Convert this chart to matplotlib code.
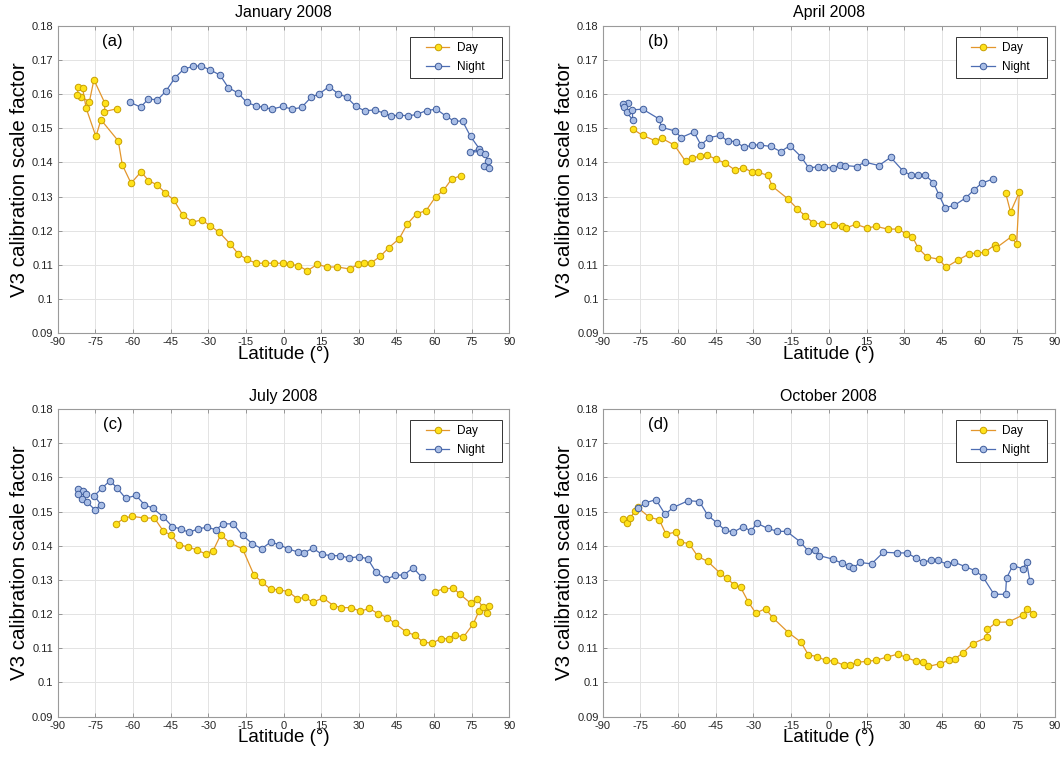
import numpy as np
import matplotlib
matplotlib.use("Agg")
import matplotlib.pyplot as plt
from matplotlib.ticker import FuncFormatter
from matplotlib.patches import Rectangle

plt.rcParams['font.family'] = ['Liberation Sans', 'DejaVu Sans']
plt.rcParams['axes.unicode_minus'] = False

titles = ["January 2008", "April 2008", "July 2008", "October 2008"]
tags = ["(a)", "(b)", "(c)", "(d)"]

# January 2008
jan_day_lat = [-66.4, -71.3, -71.1, -75.5, -77.3, -80.8, -82.1, -81.7, -80.0, -78.6, -74.7, -72.7,
               -65.8, -64.2, -60.7, -56.7, -53.8, -50.5, -47.2, -43.6, -40.2, -36.3, -32.6, -29.3,
               -25.5, -21.3, -18.0, -14.7, -10.9, -7.4, -3.7, -0.3, 2.6, 5.9, 9.5, 13.5, 17.2, 21.5,
               26.5, 29.6, 32.1, 34.7, 38.5, 42.0, 46.1, 49.3, 53.0, 56.8, 60.6, 63.7, 67.0, 70.7]
jan_day_val = [.1557, .1549, .1573, .1642, .1578, .1593, .1598, .1622, .1617, .1559, .1476, .1525,
               .1463, .1393, .1339, .1373, .1347, .1335, .1312, .1289, .1247, .1225, .1232, .1215,
               .1195, .1162, .1132, .1117, .1105, .1105, .1105, .1105, .1102, .1098, .1083, .1102,
               .1094, .1094, .1088, .1102, .1105, .1105, .1125, .1151, .1177, .1220, .1250, .1259,
               .1300, .1318, .1352, .1361]
jan_night_lat = [-61.1, -56.9, -53.8, -50.2, -46.8, -43.2, -39.6, -35.9, -32.9, -29.3, -25.3, -22.0,
                 -18.0, -14.7, -11.1, -7.8, -4.7, -0.3, 3.3, 7.2, 11.0, 14.3, 18.1, 21.8, 25.2, 28.8,
                 32.4, 36.4, 40.0, 43.0, 46.1, 49.7, 53.2, 57.0, 60.9, 64.6, 67.9, 71.3, 74.5, 78.0,
                 74.3, 78.2, 80.2, 81.5, 79.8, 81.8]
jan_night_val = [.1576, .1562, .1586, .1583, .1609, .1648, .1674, .1681, .1683, .1671, .1656, .1619,
                 .1603, .1576, .1566, .1561, .1556, .1564, .1556, .1561, .1591, .1601, .1622, .1601,
                 .1591, .1564, .1551, .1554, .1544, .1536, .1539, .1536, .1541, .1552, .1556, .1536,
                 .1521, .1521, .1476, .1440, .1430, .1432, .1424, .1403, .1391, .1385]

# April 2008
apr_day_lat = [-78.1, -74.1, -69.2, -66.6, -61.5, -57.0, -54.6, -51.3, -48.6, -45.0, -41.3, -37.4,
               -34.0, -30.7, -28.3, -24.3, -22.5, -16.4, -12.5, -9.5, -6.4, -2.6, 2.1, 5.1, 6.8,
               10.7, 15.2, 18.7, 23.4, 27.6, 30.7, 33.2, 35.6, 39.1, 43.8, 46.6, 51.5, 55.8, 58.8,
               62.1, 66.1, 66.4, 72.7, 74.7, 75.8, 72.3, 70.3]
apr_day_val = [.1498, .1479, .1464, .1471, .1451, .1403, .1412, .1419, .1422, .1410, .1398, .1378,
               .1385, .1372, .1372, .1362, .1330, .1294, .1264, .1244, .1224, .1219, .1218, .1213,
               .1208, .1219, .1208, .1213, .1205, .1205, .1191, .1183, .1149, .1123, .1117, .1093,
               .1115, .1132, .1135, .1137, .1159, .1149, .1183, .1161, .1313, .1255, .1312]
apr_night_lat = [-80.1, -82.1, -81.4, -80.5, -78.1, -78.2, -74.1, -67.5, -66.6, -61.2, -58.8, -53.7,
                 -50.9, -47.6, -43.3, -40.3, -37.1, -33.7, -30.7, -27.4, -23.2, -19.2, -15.5, -11.1,
                 -7.9, -4.4, -2.0, 1.7, 4.4, 6.6, 11.0, 14.3, 19.9, 24.6, 29.4, 32.5, 35.6, 38.3,
                 41.6, 43.8, 46.2, 49.9, 54.6, 57.8, 60.8, 65.4]
apr_night_val = [.1573, .1570, .1561, .1547, .1525, .1554, .1556, .1527, .1503, .1492, .1473, .1489,
                 .1451, .1473, .1479, .1463, .1461, .1444, .1451, .1451, .1447, .1432, .1449, .1417,
                 .1383, .1388, .1386, .1383, .1393, .1391, .1388, .1401, .1391, .1415, .1376, .1363,
                 .1363, .1363, .1341, .1305, .1268, .1274, .1297, .1320, .1339, .1352]

# July 2008
jul_day_lat = [-66.7, -63.5, -60.2, -55.4, -51.4, -47.8, -44.9, -41.6, -37.9, -34.6, -31.0, -28.0,
               -25.0, -21.3, -16.3, -11.8, -8.7, -5.1, -1.7, 1.9, 5.5, 8.5, 11.6, 15.8, 19.9, 23.0,
               27.0, 30.6, 34.1, 37.7, 41.3, 44.3, 48.6, 52.3, 55.6, 59.2, 62.7, 65.8, 68.2, 71.6,
               75.6, 77.8, 79.5, 81.8, 80.9, 77.1, 74.5, 70.3, 67.6, 63.9, 60.3]
jul_day_val = [.1463, .1481, .1486, .1481, .1481, .1442, .1432, .1403, .1396, .1388, .1376, .1386,
               .1432, .1408, .1391, .1315, .1294, .1273, .1271, .1266, .1245, .1249, .1235, .1247,
               .1225, .1219, .1219, .1208, .1217, .1201, .1190, .1173, .1149, .1138, .1118, .1115,
               .1128, .1128, .1140, .1132, .1172, .1208, .1222, .1225, .1203, .1245, .1232, .1258,
               .1276, .1274, .1266]
jul_night_lat = [-81.7, -80.0, -78.6, -81.7, -80.4, -78.4, -75.1, -72.7, -75.3, -72.4, -69.1, -66.4,
                 -62.9, -58.7, -55.4, -52.1, -47.8, -44.3, -40.9, -37.6, -34.2, -30.6, -26.9, -24.0,
                 -20.0, -16.3, -12.4, -8.7, -5.1, -1.7, 1.9, 5.9, 8.0, 11.6, 15.3, 18.9, 22.5, 26.2,
                 29.9, 33.5, 36.8, 40.8, 44.4, 48.1, 51.6, 55.0]
jul_night_val = [.1565, .1561, .1551, .1552, .1537, .1529, .1505, .1520, .1546, .1568, .1590, .1570,
                 .1539, .1547, .1520, .1510, .1484, .1456, .1449, .1439, .1449, .1454, .1447, .1464,
                 .1464, .1430, .1406, .1391, .1411, .1403, .1391, .1381, .1378, .1393, .1375, .1371,
                 .1371, .1364, .1368, .1362, .1323, .1302, .1313, .1315, .1336, .1308]

# October 2008
oct_day_lat = [-82.1, -80.5, -79.1, -77.1, -76.1, -71.4, -67.5, -64.8, -60.8, -59.2, -55.6, -52.2,
               -48.2, -43.3, -40.7, -37.7, -35.1, -32.0, -29.1, -25.2, -22.4, -16.1, -11.1, -8.2,
               -4.8, -1.3, 2.2, 6.2, 8.4, 11.1, 15.3, 18.8, 23.0, 27.4, 30.6, 34.7, 37.3, 39.6,
               44.2, 47.7, 50.3, 53.2, 57.3, 62.9, 63.1, 66.6, 71.5, 77.4, 78.7, 81.4]
oct_day_val = [.1479, .1466, .1481, .1502, .1512, .1483, .1476, .1434, .1440, .1411, .1406, .1369,
               .1354, .1320, .1305, .1286, .1278, .1235, .1203, .1216, .1190, .1146, .1118, .1081,
               .1076, .1065, .1062, .1050, .1050, .1059, .1062, .1065, .1074, .1083, .1074, .1062,
               .1059, .1047, .1055, .1065, .1070, .1086, .1114, .1132, .1155, .1176, .1177, .1198,
               .1216, .1201]
oct_night_lat = [-76.1, -73.2, -68.8, -65.2, -61.9, -55.9, -51.5, -48.2, -44.4, -41.3, -38.0, -34.0,
                 -31.0, -28.7, -24.4, -20.5, -16.8, -11.5, -8.2, -5.5, -3.8, 1.5, 5.1, 8.1, 9.5,
                 12.4, 17.0, 21.7, 27.0, 31.0, 34.7, 37.6, 40.5, 43.6, 46.9, 49.8, 54.2, 58.2, 61.2,
                 65.7, 70.3, 70.7, 73.2, 77.1, 78.7, 80.0]
oct_night_val = [.1510, .1525, .1535, .1492, .1512, .1532, .1529, .1489, .1466, .1445, .1440, .1456,
                 .1442, .1466, .1451, .1442, .1442, .1412, .1385, .1388, .1371, .1361, .1349, .1342,
                 .1334, .1351, .1347, .1381, .1379, .1379, .1364, .1351, .1358, .1357, .1346, .1352,
                 .1339, .1327, .1310, .1258, .1258, .1305, .1342, .1333, .1351, .1296]

panels = [
    (jan_day_lat, jan_day_val, jan_night_lat, jan_night_val),
    (apr_day_lat, apr_day_val, apr_night_lat, apr_night_val),
    (jul_day_lat, jul_day_val, jul_night_lat, jul_night_val),
    (oct_day_lat, oct_day_val, oct_night_lat, oct_night_val),
]

x_ticks = np.arange(-90, 91, 15)
y_ticks = np.round(np.arange(0.09, 0.1801, 0.01), 2)

fig = plt.figure(figsize=(10.63, 7.63), dpi=100)
# axes boxes in figure fraction: left, bottom, width, height
boxes = [
    [0.0541, 0.5632, 0.4252, 0.4030],
    [0.5670, 0.5632, 0.4255, 0.4030],
    [0.0541, 0.0607, 0.4252, 0.4033],
    [0.5670, 0.0607, 0.4255, 0.4033],
]

day_face = '#FFE21A'
day_edge = '#C8A000'
day_line = '#E3962C'
night_face = '#A9BEE6'
night_edge = '#3E5C9C'
night_line = '#4D6DB3'

for i, (dlat, dval, nlat, nval) in enumerate(panels):
    ax = fig.add_axes(boxes[i])
    ax.plot(dlat, dval, '-o', color=day_line, lw=0.9, ms=4.7,
            mfc=day_face, mec=day_edge, mew=0.7, label='Day')
    ax.plot(nlat, nval, '-o', color=night_line, lw=0.9, ms=4.7,
            mfc=night_face, mec=night_edge, mew=0.7, label='Night')

    ax.set_xlim(-90, 90)
    ax.set_ylim(0.09, 0.18)
    ax.set_xticks(x_ticks)
    ax.set_yticks(y_ticks)
    ax.xaxis.set_major_formatter(FuncFormatter(lambda v, p: f'{int(round(v))}'))
    ax.yaxis.set_major_formatter(FuncFormatter(lambda v, p: f'{v:g}'))
    ax.grid(True, color='#E3E3E3', lw=0.7)
    ax.set_axisbelow(True)
    ax.tick_params(direction='in', top=True, right=True, length=3, width=0.6,
                   colors='#262626', labelsize=8, pad=3)
    ax.tick_params(axis='both', color='#888888')
    for s in ax.spines.values():
        s.set_color('#9A9A9A')
        s.set_linewidth(0.8)

    ax.set_title(titles[i], fontsize=11.5, pad=6)
    ax.set_xlabel('Latitude (°)', fontsize=13.5, labelpad=-1)
    ax.set_ylabel('V3 calibration scale factor', fontsize=14.8, labelpad=2)
    ax.text(-68, 0.1755, tags[i], ha='center', va='center', fontsize=12)

    # legend box drawn like the MATLAB one: wide padding
    ax.add_patch(Rectangle((0.780, 0.829), 0.203, 0.136, transform=ax.transAxes,
                           facecolor='white', edgecolor='#333333', lw=0.7, zorder=4))
    ax.legend(loc='center left', bbox_to_anchor=(0.815, 0.897), borderaxespad=0,
              borderpad=0, fontsize=8.5, handlelength=2.0, handletextpad=0.6,
              numpoints=1, frameon=False, labelspacing=0.6)

fig.savefig('out.png', dpi=100)
